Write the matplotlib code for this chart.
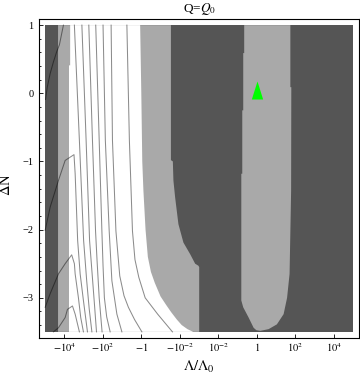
import matplotlib.pyplot as plt
from matplotlib.ticker import MultipleLocator, FixedLocator, FixedFormatter

plt.rcParams['font.family'] = ['Liberation Serif', 'DejaVu Serif']
plt.rcParams['mathtext.fontset'] = 'stix'

# x axis is folded log: log10(L/L0) for L>0, -6-log10(-L/L0) for L<0
x_ticks = [-10, -8, -6, -4, -2, 0, 2, 4]
x_ticklabels = [r'$-10^{4}$', r'$-10^{2}$', r'$-1$', r'$-10^{-2}$',
                r'$10^{-2}$', r'$1$', r'$10^{2}$', r'$10^{4}$']
y_ticks = [1, 0, -1, -2, -3]
y_ticklabels = ['1', '0', '\u22121', '\u22122', '\u22123']
x_range = [-11.0, 5.0]
y_range = [-3.5, 1.0]

# left bands
dark_band_right = -10.33
white_left_x = [-9.70, -9.70, -9.76, -9.76]
white_left_y = [1.0, 0.41, 0.41, -3.5]

# first light region (white -> light edge and light -> dark edge)
l1_left_x = [-6.06, -6.00, -5.95, -5.89, -5.78, -5.66, -5.50, -5.30, -5.00,
             -4.72, -4.45, -4.15, -3.90, -3.60, -3.30]
l1_left_y = [1.0, 0.0, -1.0, -1.43, -2.0, -2.4, -2.62, -2.78, -2.98,
             -3.10, -3.21, -3.32, -3.40, -3.46, -3.5]
l1_right_x = [-4.46, -4.46, -4.36, -4.33, -4.24, -4.07, -3.81, -3.46, -3.20,
              -3.03, -2.99, -2.99]
l1_right_y = [1.0, -0.98, -1.0, -1.28, -1.53, -1.92, -2.19, -2.36, -2.50,
              -2.53, -2.55, -3.5]

# second light region outline
l2_x = [-0.65, -0.65, -0.70, -0.70, -0.75, -0.75, -0.80, -0.80, -0.70, -0.42,
        -0.16, -0.02, 0.19, 0.62, 1.05, 1.40, 1.58, 1.71, 1.79, 1.80, 1.75, 1.75]
l2_y = [1.0, 0.59, 0.59, -0.25, -0.25, -1.18, -1.18, -3.04, -3.14, -3.29,
        -3.44, -3.475, -3.485, -3.46, -3.39, -3.24, -3.0, -2.65, -1.43, 0.09,
        0.09, 1.0]

# contour lines
line_x = [
    [-10.05, -10.26, -10.40, -10.57, -10.74, -10.89, -10.98],
    [-11.0, -10.74, -10.31, -9.96, -9.50, -9.44, -9.31, -9.18, -9.01, -8.80],
    [-11.0, -10.74, -10.31, -9.96, -9.62, -9.48, -9.44, -9.27, -9.15, -9.01],
    [-10.57, -10.31, -9.96, -9.84, -9.58, -9.44, -9.22],
    [-9.48, -9.22, -9.00, -8.84, -8.71, -8.57],
    [-9.09, -8.87, -8.69, -8.53, -8.43, -8.33],
    [-8.73, -8.54, -8.38, -8.30, -8.19, -8.04],
    [-8.37, -8.19, -8.05, -7.99, -7.92, -7.80, -7.62],
    [-7.99, -7.87, -7.67, -7.53, -7.27, -7.01],
    [-7.57, -7.50, -7.32, -7.12, -6.90, -6.67, -6.35, -5.97],
    [-6.75, -6.62, -6.46, -6.33, -6.13, -5.80, -5.15, -4.38],
]
line_y = [
    [1.0, 0.71, 0.61, 0.46, 0.29, 0.09, -0.09],
    [-2.01, -1.67, -1.28, -0.985, -0.90, -1.18, -2.16, -2.65, -3.04, -3.5],
    [-3.14, -2.94, -2.65, -2.50, -2.37, -2.50, -2.65, -3.0, -3.29, -3.5],
    [-3.5, -3.44, -3.29, -3.17, -3.12, -3.24, -3.5],
    [1.0, -0.69, -2.16, -2.75, -3.16, -3.5],
    [1.0, -0.69, -2.16, -2.75, -3.12, -3.5],
    [1.0, -0.69, -2.02, -2.46, -3.0, -3.5],
    [1.0, -0.69, -2.02, -2.53, -3.0, -3.28, -3.5],
    [1.0, -0.69, -2.02, -2.75, -3.24, -3.5],
    [1.0, -0.69, -2.02, -2.68, -2.97, -3.14, -3.32, -3.5],
    [1.0, -0.69, -2.02, -2.44, -2.70, -3.0, -3.24, -3.5],
]

# marked point (L = L0, dN = 0)
point_x = [0.0]
point_y = [0.0]

dark = '#555555'
light = '#a9a9a9'

fig = plt.figure(figsize=(3.6, 3.79), dpi=100)
ax = fig.add_axes([39 / 360, 41 / 379, 320 / 360, 319 / 379])

x0, x1 = x_range
y0, y1 = y_range
ax.fill([x0, x1, x1, x0], [y0, y0, y1, y1], color=dark, lw=0)
ax.fill([dark_band_right] + l1_right_x + [dark_band_right],
        [y1] + l1_right_y + [y0], color=light, lw=0)
ax.fill(white_left_x + l1_left_x[::-1], white_left_y + l1_left_y[::-1],
        color='white', lw=0)
ax.fill(l2_x, l2_y, color=light, lw=0)

for xs, ys in zip(line_x, line_y):
    ax.plot(xs, ys, color='black', alpha=0.45, lw=0.75)

ax.plot(point_x, point_y, ls='none',
        marker=[(-5.65, -6), (5.65, -6), (0, 12)], ms=17.3,
        color='#00ff00', mew=0)

pad_x = 0.02 * (x1 - x0)
pad_y = 0.02 * (y1 - y0)
ax.set_xlim(x0 - pad_x, x1 + pad_x)
ax.set_ylim(y0 - pad_y, y1 + pad_y)

ax.xaxis.set_major_locator(FixedLocator(x_ticks))
ax.xaxis.set_major_formatter(FixedFormatter(x_ticklabels))
ax.yaxis.set_major_locator(FixedLocator(y_ticks))
ax.yaxis.set_major_formatter(FixedFormatter(y_ticklabels))
ax.yaxis.set_minor_locator(MultipleLocator(0.2))
ax.tick_params(which='both', direction='in', width=0.6, labelsize=7.5,
               top=False, right=False)
ax.tick_params(which='major', length=3)
ax.tick_params(which='minor', length=1.5)
ax.tick_params(axis='x', pad=2)
ax.tick_params(axis='y', pad=4)
for s in ax.spines.values():
    s.set_linewidth(0.8)

ax.set_title(r'Q=$Q_0$', fontsize=9.5, pad=5)
ax.set_xlabel(r'$\Lambda/\Lambda_0$', fontsize=10.5)
ax.set_ylabel(r'$\Delta$N', fontsize=10.5)
ax.xaxis.set_label_coords(0.5, -0.066)
ax.yaxis.set_label_coords(-0.082, 0.48)

fig.savefig('out.png', dpi=100)
